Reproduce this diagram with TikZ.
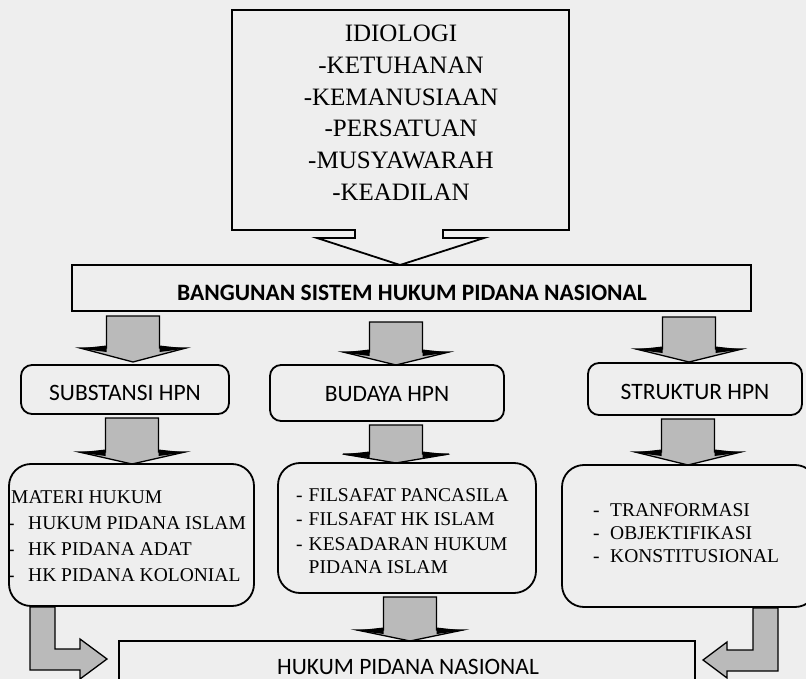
\documentclass[tikz,border=0pt]{standalone}
\usepackage{fontspec}
\newfontfamily\serifT{Liberation Serif}
\newfontfamily\sansC{Carlito}
\definecolor{bgpaper}{RGB}{238,238,238}
\definecolor{arrowgray}{RGB}{186,186,186}
\newcommand\blockdown[4]{%
  \path[blockarrow] (#1-26.5,#2) -- (#1+26.5,#2) -- (#1+26.5,#3) -- (#1+53,#3) -- (#1,#4) -- (#1-53,#3) -- (#1-26.5,#3) -- cycle;
  \fill[black] (#1-54,#3+0.5) -- (#1-26.5,#3-2.5) -- (#1-26.5,#3+4) -- cycle;
  \fill[black] (#1+54,#3+0.5) -- (#1+26.5,#3-2.5) -- (#1+26.5,#3+4) -- cycle;
}
\begin{document}
\begin{tikzpicture}[x=1pt,y=-1pt,
  frame/.style={draw=black,line width=1.8pt,line join=miter},
  sqbox/.style={frame,inner sep=0pt,outer sep=0pt,anchor=north west},
  rbox/.style={sqbox,rounded corners=11pt},
  bigrbox/.style={sqbox,rounded corners=22pt},
  blockarrow/.style={fill=arrowgray,draw=black,line width=1.3pt,line join=miter},
  toptext/.style={inner sep=0pt,anchor=base,font=\serifT\fontsize{25}{30}\selectfont},
  listtext/.style={inner sep=0pt,anchor=base west,font=\serifT\fontsize{19.5}{24}\selectfont},
  sanstext/.style={inner sep=0pt,anchor=base,font=\sansC\fontsize{23.5}{28}\selectfont},
  boldtext/.style={sanstext,font=\sansC\bfseries\fontsize{23.5}{28}\selectfont}]
\useasboundingbox (0,0) rectangle (806,679);
\fill[bgpaper] (0,0) rectangle (806,679);
\clip (0,0) rectangle (806,679);

% top box with hollow arrow
\draw[frame] (232,10) -- (569,10) -- (569,230) -- (443,230) -- (443,238) -- (484,238)
  -- (400,265) -- (317,238) -- (355,238) -- (355,230) -- (232,230) -- cycle;
\foreach \t/\b [count=\i] in {IDIOLOGI/41.5,-KETUHANAN/73.5,-KEMANUSIAAN/105.5,-PERSATUAN/136.5,-MUSYAWARAH/168.5,-KEADILAN/200.5}
  \node[toptext] (ideo\i) at (401,\b) {\t};

% main box
\node[sqbox,minimum width=679pt,minimum height=46pt] (bangunan) at (72,265) {};
\node[boldtext] (bangunanT) at (412,300.5) {BANGUNAN SISTEM HUKUM PIDANA NASIONAL};

% arrows row 1
\blockdown{133}{316}{348}{362}
\blockdown{396}{322}{352}{365}
\blockdown{689}{317}{349}{362}

% second row
\node[rbox,minimum width=208pt,minimum height=49pt] (subst) at (21,365) {};
\node[sanstext] (substT) at (125,400) {SUBSTANSI HPN};
\node[rbox,minimum width=234pt,minimum height=56pt] (budaya) at (270,365) {};
\node[sanstext] (budayaT) at (387,401) {BUDAYA HPN};
\node[rbox,minimum width=214pt,minimum height=52pt] (struktur) at (588,363) {};
\node[sanstext] (strukturT) at (695,399.5) {STRUKTUR HPN};

% arrows row 2
\blockdown{132}{418}{452}{464}
\blockdown{396}{425}{454}{463}
\blockdown{688}{419}{452}{465}

% third row
\node[bigrbox,minimum width=245pt,minimum height=142pt] (materi) at (9,464) {};
\node[listtext] (mat1) at (11,503.3) {MATERI HUKUM};
\node[listtext] (mat2) at (8,529.3) {\makebox[20pt][l]{-}HUKUM PIDANA ISLAM};
\node[listtext] (mat3) at (8,555) {\makebox[20pt][l]{-}HK PIDANA ADAT};
\node[listtext] (mat4) at (8,581.7) {\makebox[20pt][l]{-}HK PIDANA KOLONIAL};

\node[bigrbox,minimum width=258pt,minimum height=130pt] (filsafat) at (278,463) {};
\node[listtext] (fil1) at (296,501.7) {\makebox[12.5pt][l]{-}FILSAFAT PANCASILA};
\node[listtext] (fil2) at (296,525) {\makebox[12.5pt][l]{-}FILSAFAT HK ISLAM};
\node[listtext] (fil3) at (296,550) {\makebox[12.5pt][l]{-}KESADARAN HUKUM};
\node[listtext] (fil4) at (308.5,573.3) {PIDANA ISLAM};

\node[bigrbox,minimum width=255pt,minimum height=142pt] (transf) at (562,465) {};
\node[listtext] (tr1) at (593,516.7) {\makebox[17pt][l]{-}TRANFORMASI};
\node[listtext] (tr2) at (593,539.5) {\makebox[17pt][l]{-}OBJEKTIFIKASI};
\node[listtext] (tr3) at (593,562) {\makebox[17pt][l]{-}KONSTITUSIONAL};

% arrow row 3
\blockdown{410}{597}{630}{641}

% bottom box
\node[sqbox,minimum width=576pt,minimum height=80pt] (hpn) at (119,641) {};
\node[sanstext] (hpnT) at (408,674) {HUKUM PIDANA NASIONAL};

% L-shaped arrows
\path[blockarrow] (30,607) -- (55,607) -- (55,649) -- (80,649) -- (80,639) -- (107,659)
  -- (80,679) -- (80,670) -- (30,670) -- cycle;
\path[blockarrow] (778,608) -- (753,608) -- (753,650) -- (727,650) -- (727,642) -- (703,660)
  -- (727,678) -- (727,671) -- (778,671) -- cycle;
\end{tikzpicture}
\end{document}
